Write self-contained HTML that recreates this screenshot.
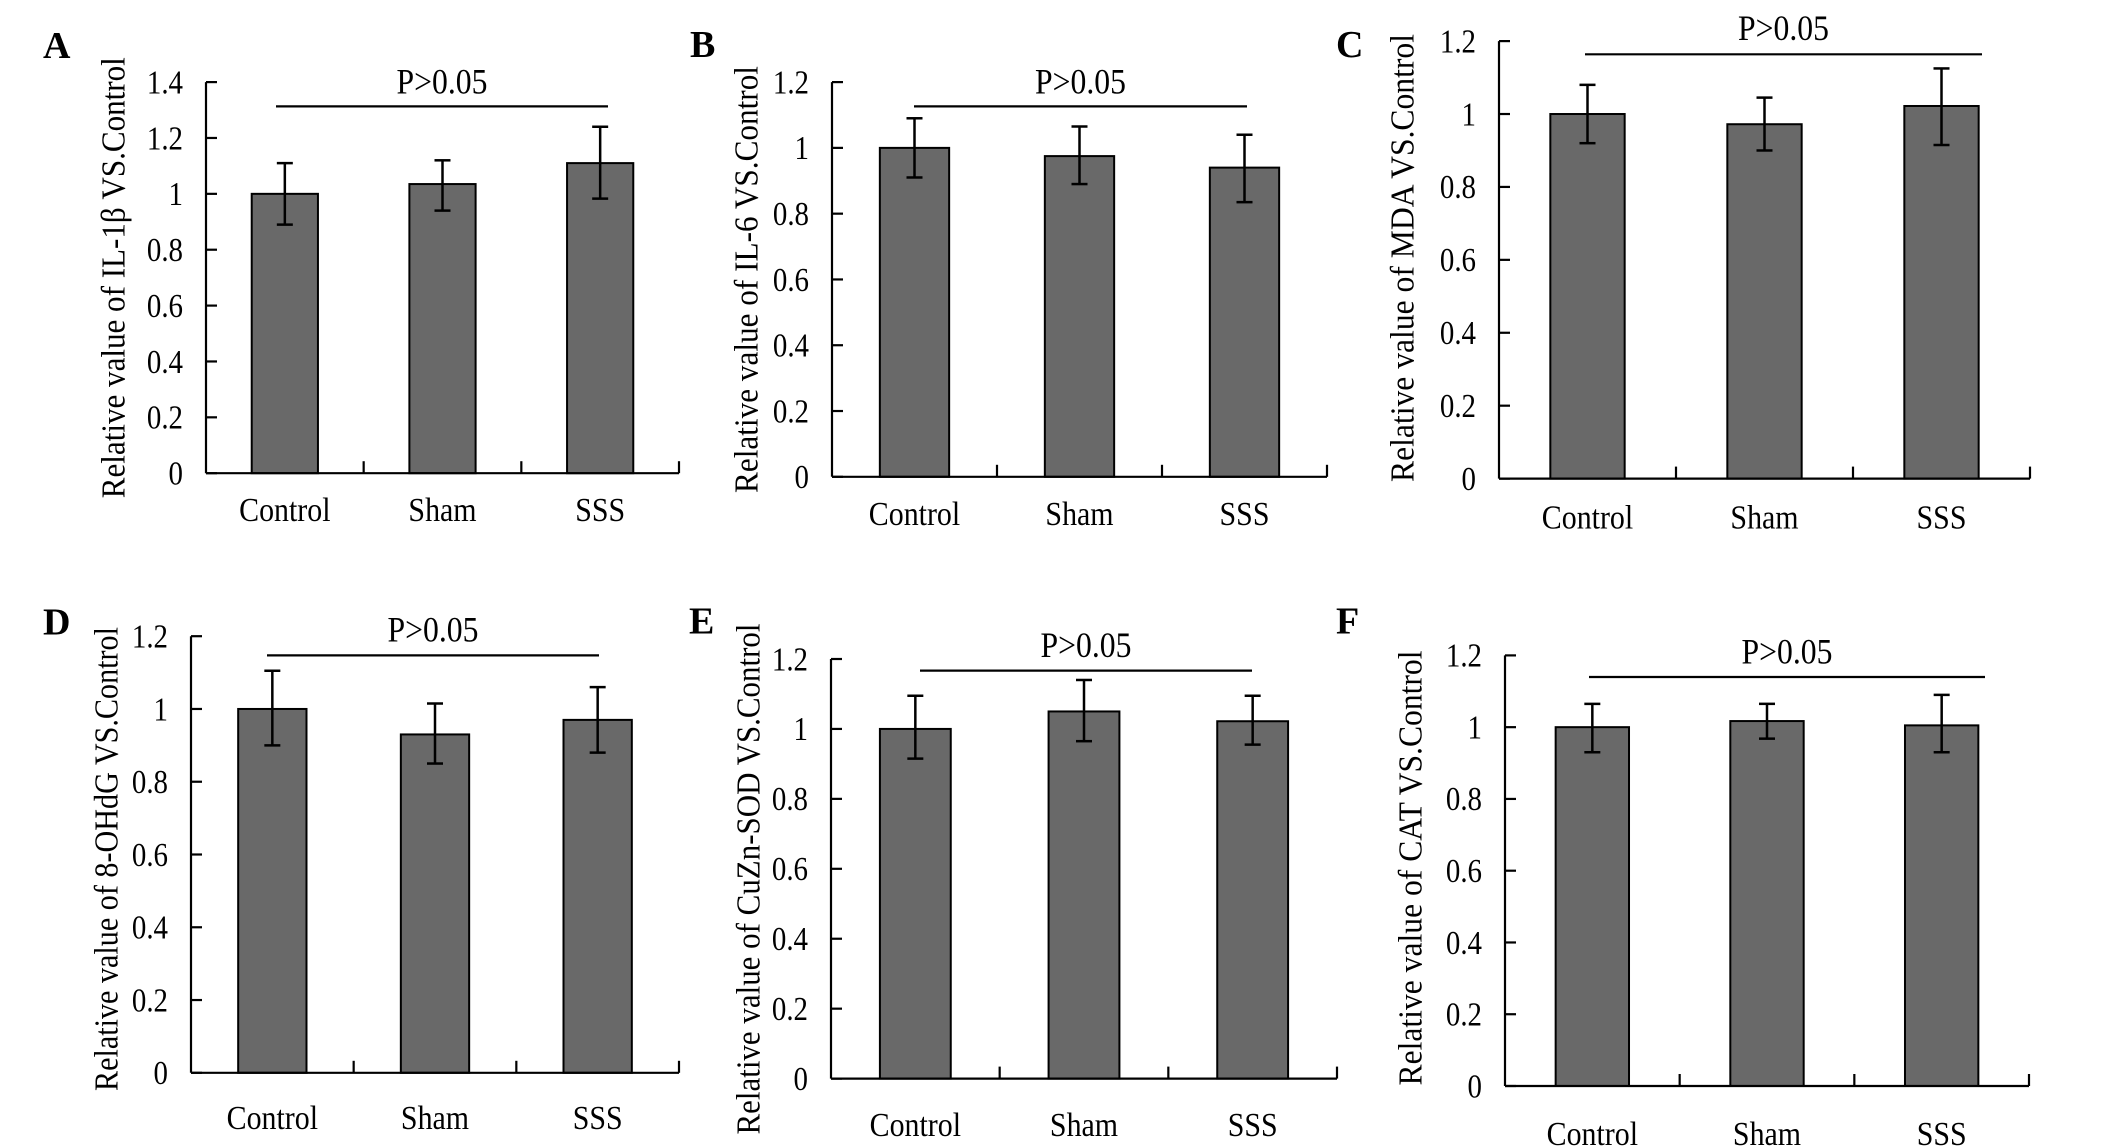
<!DOCTYPE html>
<html><head><meta charset="utf-8"><style>
html,body{margin:0;padding:0;background:#fff;}
svg{display:block;font-family:"Liberation Serif","Times New Roman",serif;}
</style></head><body>
<svg id="fig" width="2126" height="1148" viewBox="0 0 2126 1148" xmlns="http://www.w3.org/2000/svg"></svg>
<script>
const categories = ["Control", "Sham", "SSS"];
const valuesA = [1.0, 1.035, 1.11];
const errHiA = [1.11, 1.12, 1.24];
const errLoA = [0.89, 0.94, 0.983];
const valuesB = [1.0, 0.975, 0.94];
const errHiB = [1.09, 1.065, 1.04];
const errLoB = [0.91, 0.89, 0.835];
const valuesC = [1.0, 0.972, 1.022];
const errHiC = [1.08, 1.045, 1.125];
const errLoC = [0.92, 0.90, 0.915];
const valuesD = [1.0, 0.93, 0.97];
const errHiD = [1.105, 1.015, 1.06];
const errLoD = [0.90, 0.85, 0.88];
const valuesE = [1.0, 1.05, 1.022];
const errHiE = [1.095, 1.14, 1.095];
const errLoE = [0.915, 0.965, 0.955];
const valuesF = [1.0, 1.017, 1.005];
const errHiF = [1.065, 1.065, 1.09];
const errLoF = [0.93, 0.968, 0.93];
const ticksA = ["0","0.2","0.4","0.6","0.8","1","1.2","1.4"];
const ticks12 = ["0","0.2","0.4","0.6","0.8","1","1.2"];
const titles = ["Relative value of IL-1β VS.Control","Relative value of IL-6 VS.Control","Relative value of MDA VS.Control","Relative value of 8-OHdG VS.Control","Relative value of CuZn-SOD VS.Control","Relative value of CAT VS.Control"];
const panelLetters = ["A","B","C","D","E","F"];
const pText = "P>0.05";

const layout = [
 {v:valuesA,hi:errHiA,lo:errLoA,ticks:ticksA,x0:206,x1:679,yTop:82.1,yZero:473.2,px0:276,px1:608,py:106.4,pb:93.6,lx:43,lb:58,cb:521,tx:114,ty:277.7,tl:441},
 {v:valuesB,hi:errHiB,lo:errLoB,ticks:ticks12,x0:832,x1:1327,yTop:82.1,yZero:476.8,px0:914,px1:1247,py:106.4,pb:93.6,lx:690,lb:57,cb:525,tx:747,ty:279.5,tl:427},
 {v:valuesC,hi:errHiC,lo:errLoC,ticks:ticks12,x0:1499,x1:2030,yTop:41.1,yZero:478.6,px0:1585,px1:1982,py:54.3,pb:40,lx:1336,lb:57,cb:528.6,tx:1403,ty:258,tl:448},
 {v:valuesD,hi:errHiD,lo:errLoD,ticks:ticks12,x0:191,x1:679,yTop:636.2,yZero:1072.8,px0:267,px1:599,py:655.4,pb:641.6,lx:43,lb:634.3,cb:1129,tx:107,ty:859,tl:464},
 {v:valuesE,hi:errHiE,lo:errLoE,ticks:ticks12,x0:831,x1:1337,yTop:659,yZero:1078.6,px0:920,px1:1252,py:670.6,pb:656.8,lx:689,lb:633.6,cb:1136,tx:749,ty:879,tl:511},
 {v:valuesF,hi:errHiF,lo:errLoF,ticks:ticks12,x0:1505,x1:2029,yTop:655.4,yZero:1086,px0:1589,px1:1985,py:677,pb:663.3,lx:1336,lb:633.6,cb:1145,tx:1411,ty:868,tl:435}
];

const NS = "http://www.w3.org/2000/svg";
const svg = document.getElementById("fig");
function mk(tag, attrs, parent, text){
  const e = document.createElementNS(NS, tag);
  for (const k in attrs) e.setAttribute(k, attrs[k]);
  if (text !== undefined) e.textContent = text;
  (parent || svg).appendChild(e);
  return e;
}
function txt(parent, x, y, size, sx, anchor, baseline, s, extra){
  const a = {x:0, y:0, "font-size":size, "text-anchor":anchor, transform:`translate(${x},${y}) scale(${sx},1)`};
  if (baseline) a["dominant-baseline"] = baseline;
  if (extra) Object.assign(a, extra);
  return mk("text", a, parent, s);
}

layout.forEach((p, pi) => {
  const g = mk("g", {});
  
  
  const yMax = (p.ticks.length - 1) * 0.2;
  const yScale = v => p.yZero - (v / yMax) * (p.yZero - p.yTop);
  const cw = (p.x1 - p.x0) / categories.length;
  const xCenter = i => p.x0 + (i + 0.5) * cw;
  const bw = cw * 0.42;

  const L = txt(g, p.lx, p.lb, 38, 1, "start", null, panelLetters[pi], {"font-weight":"bold"});
  
  

  const T = mk("text", {x:0, y:0, "font-size":34, "text-anchor":"middle", "dominant-baseline":"central",
    transform:`translate(${p.tx},${p.ty}) rotate(-90)`, textLength:p.tl, lengthAdjust:"spacingAndGlyphs"}, g, titles[pi]);
  
  

  p.v.forEach((val, i) => {
    const b = mk("rect", {x:xCenter(i)-bw/2, y:yScale(val), width:bw, height:p.yZero-yScale(val),
      fill:"#696969", stroke:"#000", "stroke-width":2}, g);
    
    
    const eg = mk("g", {stroke:"#000", "stroke-width":2.5}, g);
    
    
    const cx = xCenter(i);
    mk("line", {x1:cx, x2:cx, y1:yScale(p.hi[i]), y2:yScale(p.lo[i])}, eg);
    mk("line", {x1:cx-8, x2:cx+8, y1:yScale(p.hi[i]), y2:yScale(p.hi[i])}, eg);
    mk("line", {x1:cx-8, x2:cx+8, y1:yScale(p.lo[i]), y2:yScale(p.lo[i])}, eg);
    const cl = txt(g, cx, p.cb, 34, 0.88, "middle", null, categories[i]);
    
    
  });

  const ax = mk("g", {stroke:"#000", "stroke-width":2.2, fill:"none"}, g);
  
  
  mk("line", {x1:p.x0, x2:p.x0, y1:p.yTop, y2:p.yZero}, ax);
  mk("line", {x1:p.x0, x2:p.x1, y1:p.yZero, y2:p.yZero}, ax);
  p.ticks.forEach((t, k) => {
    const y = yScale(k * 0.2);
    mk("line", {x1:p.x0, x2:p.x0+11, y1:y, y2:y}, ax);
    const tl = txt(g, p.x0-23, y, 34, 0.85, "end", "central", t);
    
    
  });
  for (let i = 1; i <= categories.length; i++) {
    const x = p.x0 + i * cw;
    mk("line", {x1:x, x2:x, y1:p.yZero, y2:p.yZero-12}, ax);
  }

  const sl = mk("line", {x1:p.px0, x2:p.px1, y1:p.py, y2:p.py, stroke:"#000", "stroke-width":2.2}, g);
  
  
  const st = txt(g, (p.px0+p.px1)/2, p.pb, 36, 0.88, "middle", null, pText);
  
  
});
</script>
</body></html>
